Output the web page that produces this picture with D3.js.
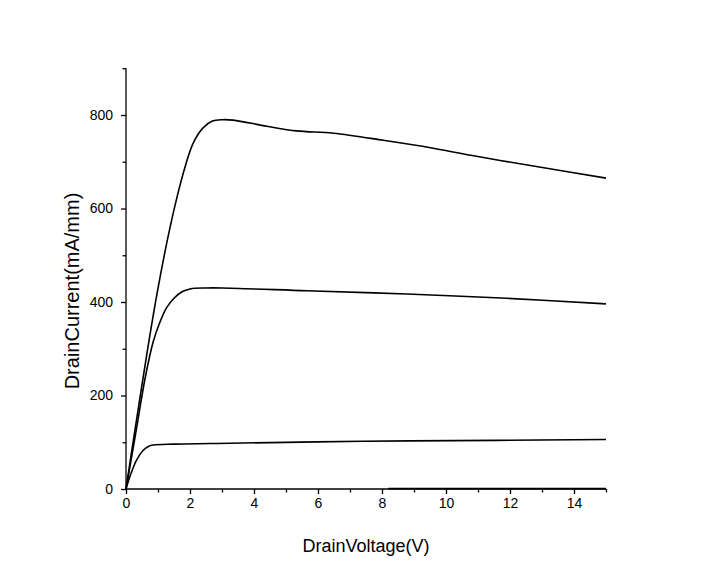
<!DOCTYPE html>
<html><head><meta charset="utf-8">
<script src="https://cdn.jsdelivr.net/npm/d3@7"></script>
<style>body{margin:0;background:#fff}svg{display:block}text{font-family:"Liberation Sans",Arial,sans-serif}</style>
</head><body>
<svg id="c" width="704" height="587"></svg>
<script>
const xMajorTicks = [0,2,4,6,8,10,12,14];
const xMinorTicks = [1,3,5,7,9,11,13,15];
const yMajorTicks = [0,200,400,600,800];
const yMinorTicks = [100,300,500,700,900];
const xTitle = "DrainVoltage(V)";
const yTitle = "DrainCurrent(mA/mm)";

const curveTop = [[0,0],[0.3,135],[0.65,288],[0.96,414],[1.3,535],[1.6,626],[1.85,690],[2.1,740],[2.4,772],[2.7,787],[3.0,790],[3.35,789],[4.4,776],[5.33,766],[6.48,761],[8.04,746],[9.6,729],[11.17,709],[12.73,691],[15,665]];
const curve400 = [[0,0],[0.3,118],[0.6,238],[0.85,315],[1.05,355],[1.27,388],[1.5,408],[1.75,422],[2.0,428],[2.5,430],[3.0,430],[5.65,424],[8.77,417],[11.9,408],[15,396]];
const curve100 = [[0,0],[0.15,32],[0.33,62],[0.54,83],[0.7,91],[0.85,94],[1.5,96],[3.25,98],[7.4,102],[11.6,104],[15,106]];
const curveOff = [[8.2,0.8],[15,0.8]];
const series = [curveTop, curve400, curve100, curveOff];

const svg = d3.select("#c");
const x = d3.scaleLinear().domain([0,15]).range([126,606]);
const y = d3.scaleLinear().domain([0,900]).range([489,68.25]);

const gx = svg.append("g").attr("transform",`translate(0,${y(0)})`);
gx.call(d3.axisBottom(x).tickValues(xMajorTicks).tickSize(5).tickPadding(4).tickFormat(d3.format("d")));
const gxm = svg.append("g").attr("transform",`translate(0,${y(0)})`);
gxm.call(d3.axisBottom(x).tickValues(xMinorTicks).tickSize(3.5).tickFormat(""));
gxm.select(".domain").remove();

const gy = svg.append("g").attr("transform",`translate(${x(0)},0)`);
gy.call(d3.axisLeft(y).tickValues(yMajorTicks).tickSize(5).tickPadding(8).tickFormat(d3.format("d")));
const gym = svg.append("g").attr("transform",`translate(${x(0)},0)`);
gym.call(d3.axisLeft(y).tickValues(yMinorTicks).tickSize(3.5).tickFormat(""));
gym.select(".domain").remove();

svg.selectAll(".domain").attr("stroke","#000").attr("stroke-width",1.3);
svg.selectAll(".tick line").attr("stroke","#000").attr("stroke-width",1.3);
svg.selectAll(".tick text").attr("font-size",14).attr("fill","#000").attr("font-family","'Liberation Sans',Arial,sans-serif");
gx.selectAll(".domain").attr("d",`M${x(0)},0H${x(15)}`);
gy.selectAll(".domain").attr("d",`M0,${y(0)}V${y(900)}`);

const line = d3.line().x(d=>x(d[0])).y(d=>y(d[1])).curve(d3.curveCatmullRom.alpha(0.5));
svg.append("g").selectAll("path").data(series).join("path")
  .attr("d",line).attr("fill","none").attr("stroke","#000").attr("stroke-width",1.6);

svg.append("text").attr("x",366).attr("y",552).attr("text-anchor","middle")
  .attr("font-size",18).attr("fill","#000").text(xTitle);
svg.append("text").attr("transform","translate(79,291) rotate(-90)").attr("text-anchor","middle")
  .attr("font-size",20).attr("fill","#000").text(yTitle);
</script>
</body></html>
